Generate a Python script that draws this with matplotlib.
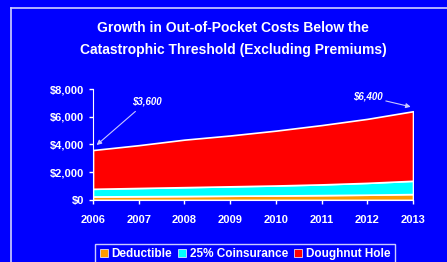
import matplotlib.pyplot as plt
from matplotlib.patches import Patch
from matplotlib.lines import Line2D

years = [2006, 2007, 2008, 2009, 2010, 2011, 2012, 2013]
deductible = [250, 265, 280, 300, 320, 345, 375, 420]
coinsurance = [550, 595, 640, 680, 720, 775, 855, 960]
total = [3600, 3950, 4350, 4650, 5000, 5400, 5850, 6400]
doughnut = [t - d - c for t, d, c in zip(total, deductible, coinsurance)]
labels = ['Deductible', '25% Coinsurance', 'Doughnut Hole']
colors = ['#FF9900', '#00FFFF', '#FF0000']
yticks = [0, 2000, 4000, 6000, 8000]

bg = '#0000FF'
plt.rcParams['font.family'] = ['Liberation Sans', 'DejaVu Sans']

fig = plt.figure(figsize=(4.47, 2.62), dpi=100, facecolor=bg)
ax = fig.add_axes([0.208, 0.237, 0.716, 0.423], facecolor=bg)

ax.stackplot(years, deductible, coinsurance, doughnut, colors=colors,
             edgecolor='white', linewidth=1.2)

ax.set_xlim(2006, 2013)
ax.set_ylim(0, 8000)
ax.set_xticks(years)
ax.set_yticks(yticks)
ax.set_yticklabels(['${:,}'.format(v) for v in yticks])
ax.tick_params(colors='white', labelsize=8, length=3, width=1)
for lab in ax.get_xticklabels() + ax.get_yticklabels():
    lab.set_fontweight('bold')
ax.tick_params(axis='x', pad=8)
for s in ['top', 'right']:
    ax.spines[s].set_visible(False)
for s in ['left', 'bottom']:
    ax.spines[s].set_color('white')

ax.annotate('$3,600', xy=(2006.08, 3960), xytext=(2007.17, 7080),
            color='white', fontsize=7, fontweight='bold', style='italic',
            ha='center', va='center',
            arrowprops=dict(arrowstyle='-|>', color='#C8C8FF', lw=0.8,
                            shrinkA=2, shrinkB=0, mutation_scale=7))
ax.annotate('$6,400', xy=(2012.95, 6720), xytext=(2012.02, 7440),
            color='white', fontsize=7, fontweight='bold', style='italic',
            ha='center', va='center',
            arrowprops=dict(arrowstyle='-|>', color='#C8C8FF', lw=0.8,
                            shrinkA=0, shrinkB=0, mutation_scale=7))

fig.text(0.522, 0.893, 'Growth in Out-of-Pocket Costs Below the',
         color='white', fontsize=10, fontweight='bold', ha='center', va='center')
fig.text(0.522, 0.809, 'Catastrophic Threshold (Excluding Premiums)',
         color='white', fontsize=10, fontweight='bold', ha='center', va='center')

# outer frame
fig.add_artist(Line2D([10.5 / 447, 10.5 / 447], [0, 1 - 7.5 / 262],
                      transform=fig.transFigure, color='#D0D0FF', lw=1.2))
fig.add_artist(Line2D([10.5 / 447, 1], [1 - 7.5 / 262, 1 - 7.5 / 262],
                      transform=fig.transFigure, color='#D0D0FF', lw=1.2))

handles = [Patch(facecolor=c, edgecolor='white', linewidth=0.5) for c in colors]
leg = fig.legend(handles, labels, loc='lower left', bbox_to_anchor=(95 / 447, -0.012),
                 ncol=3, frameon=True, fancybox=False, fontsize=8.5,
                 handlelength=0.7, handleheight=0.7, handletextpad=0.3,
                 columnspacing=0.5, borderpad=0.4, borderaxespad=0)
leg.get_frame().set_facecolor(bg)
leg.get_frame().set_edgecolor('white')
for t in leg.get_texts():
    t.set_color('white')
    t.set_fontweight('bold')

fig.savefig('out.png', dpi=100, facecolor=bg)
